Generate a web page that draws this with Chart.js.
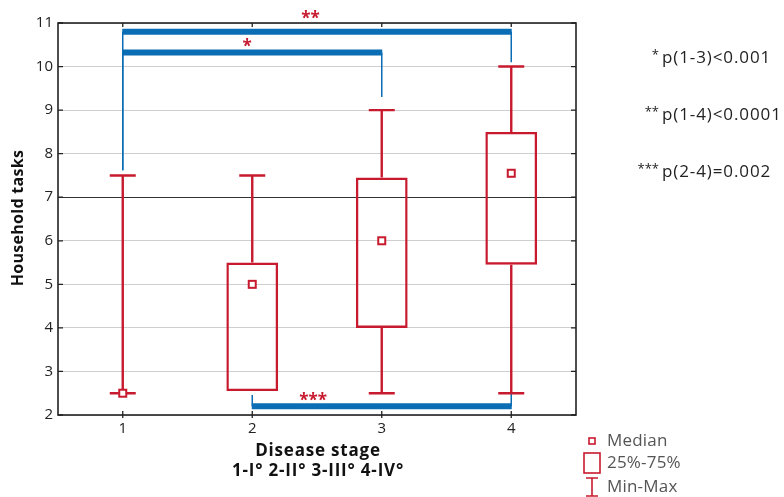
<!DOCTYPE html>
<html>
<head>
<meta charset="utf-8">
<script src="https://cdn.jsdelivr.net/npm/chart.js@4"></script>
<style>
  body { margin: 0; background: #fff; }
  #wrap { width: 784px; height: 497px; }
</style>
</head>
<body>
<div id="wrap"><canvas id="boxChart" width="784" height="497"></canvas></div>
<script>
// Disease stage groups and the box plot values
const stages = ['1', '2', '3', '4'];
const minVals = [2.5, 2.55, 2.5, 2.5];
const q1Vals = [2.5, 2.55, 4.0, 5.45];
const medianVals = [2.5, 5.0, 6.0, 7.55];
const q3Vals = [2.5, 5.5, 7.45, 8.5];
const maxVals = [7.5, 7.5, 9.0, 10.0];

// y axis
const yMin = 2;
const yMax = 11;

// significance brackets (stage numbers, levels in data units)
const sigFrom = [1, 1, 2];
const sigTo = [3, 4, 4];
const sigLevel = [10.32, 10.8, 2.2];
const sigDropFrom = [7.62, 7.62, 2.46];
const sigDropTo = [9.3, 10.1, 2.5];
const sigStars = ['*', '**', '***'];
const starX = [1.96, 2.45, 2.47];
const starY = [10.53, 11.18, 2.42];
const pTexts = ['p(1-3)<0.001', 'p(1-4)<0.0001', 'p(2-4)=0.002'];

const legendLabels = ['Median', '25%-75%', 'Min-Max'];

const red = '#c81a2e';
const blue = '#0b6db3';
const font = '"Open Sans", "Noto Sans", sans-serif';

// helper: stage number (1-based, may be fractional) -> pixel
function stageX(scale, v) {
    return scale.getPixelForValue(v - 1);
}

const extras = {
    id: 'extras',
    afterDatasetsDraw(chart) {
        const {ctx, scales: {x, y}} = chart;
        ctx.save();

        // significance brackets
        for (let i = 0; i < sigFrom.length; i++) {
            const x1 = stageX(x, sigFrom[i]);
            const x2 = stageX(x, sigTo[i]);
            const yl = y.getPixelForValue(sigLevel[i]);
            ctx.strokeStyle = blue;
            ctx.lineWidth = 1.5;
            ctx.beginPath();
            ctx.moveTo(x1, yl);
            ctx.lineTo(x1, y.getPixelForValue(sigDropFrom[i]));
            ctx.moveTo(x2, yl);
            ctx.lineTo(x2, y.getPixelForValue(sigDropTo[i]));
            ctx.stroke();
            ctx.lineWidth = 6;
            ctx.beginPath();
            ctx.moveTo(x1 - 0.5, yl);
            ctx.lineTo(x2 + 0.5, yl);
            ctx.stroke();
        }

        // whiskers, caps and medians
        ctx.strokeStyle = red;
        ctx.lineWidth = 2.4;
        for (let i = 0; i < stages.length; i++) {
            const cx = x.getPixelForValue(i);
            const collapsed = q1Vals[i] === q3Vals[i];
            ctx.beginPath();
            if (maxVals[i] > q3Vals[i]) {
                ctx.moveTo(cx, y.getPixelForValue(q3Vals[i]));
                ctx.lineTo(cx, y.getPixelForValue(maxVals[i]));
                ctx.moveTo(cx - 13, y.getPixelForValue(maxVals[i]));
                ctx.lineTo(cx + 13, y.getPixelForValue(maxVals[i]));
            }
            if (minVals[i] < q1Vals[i] || collapsed) {
                ctx.moveTo(cx, y.getPixelForValue(q1Vals[i]));
                ctx.lineTo(cx, y.getPixelForValue(minVals[i]));
                ctx.moveTo(cx - 13, y.getPixelForValue(minVals[i]));
                ctx.lineTo(cx + 13, y.getPixelForValue(minVals[i]));
            }
            ctx.stroke();

            const my = y.getPixelForValue(medianVals[i]);
            ctx.fillStyle = '#fff';
            ctx.fillRect(cx - 4, my - 4, 8, 8);
            ctx.lineWidth = 2;
            ctx.strokeRect(cx - 3.5, my - 3.5, 7, 7);
            ctx.lineWidth = 2.4;
        }
        ctx.restore();
    },
    afterDraw(chart) {
        const {ctx, chartArea: a, scales: {x, y}} = chart;
        ctx.save();

        // frame and inward ticks
        ctx.strokeStyle = '#222';
        ctx.lineWidth = 1.6;
        ctx.strokeRect(a.left, a.top, a.right - a.left, a.bottom - a.top);
        ctx.lineWidth = 1.3;
        ctx.beginPath();
        for (let v = yMin; v <= yMax; v++) {
            const py = y.getPixelForValue(v);
            ctx.moveTo(a.left, py); ctx.lineTo(a.left + 5, py);
            ctx.moveTo(a.right, py); ctx.lineTo(a.right - 5, py);
        }
        for (let i = 0; i < stages.length; i++) {
            const px = x.getPixelForValue(i);
            ctx.moveTo(px, a.top); ctx.lineTo(px, a.top + 4);
            ctx.moveTo(px, a.bottom + 3); ctx.lineTo(px, a.bottom - 4);
        }
        ctx.stroke();

        // stars
        ctx.fillStyle = red;
        ctx.font = 'bold 17px ' + font;
        ctx.textAlign = 'center';
        ctx.textBaseline = 'middle';
        for (let i = 0; i < sigStars.length; i++) {
            ctx.fillText(sigStars[i], stageX(x, starX[i]), y.getPixelForValue(starY[i]) + 4);
        }

        // axis titles
        ctx.fillStyle = '#111';
        ctx.font = 'bold 17px ' + font;
        ctx.letterSpacing = '0.8px';
        ctx.fillText('Disease stage', 318, 451);
        ctx.fillText('1-I\u00b0 2-II\u00b0 3-III\u00b0 4-IV\u00b0', 318, 471);
        ctx.font = 'bold 16px ' + font;
        ctx.letterSpacing = '0.3px';
        ctx.save();
        ctx.translate(18, 218);
        ctx.rotate(-Math.PI / 2);
        ctx.fillText('Household tasks', 0, 0);
        ctx.restore();

        // p-values
        const pY = [58, 115, 172];
        for (let i = 0; i < pTexts.length; i++) {
            ctx.textAlign = 'right';
            ctx.letterSpacing = '0px';
            ctx.font = '13px ' + font;
            ctx.fillStyle = '#222';
            ctx.fillText(sigStars[i], 659, pY[i] - 3);
            ctx.textAlign = 'left';
            ctx.font = '17px ' + font;
            ctx.letterSpacing = '0.9px';
            ctx.fillText(pTexts[i], 662, pY[i]);
        }

        // legend
        const lY = [441, 463, 487];
        ctx.fillStyle = '#555';
        ctx.font = '17px ' + font;
        ctx.letterSpacing = '0.2px';
        ctx.textAlign = 'left';
        legendLabels.forEach((t, i) => ctx.fillText(t, 607, lY[i]));
        ctx.strokeStyle = red;
        ctx.lineWidth = 1.6;
        ctx.strokeRect(589, lY[0] - 3, 6, 6);
        ctx.strokeRect(584, lY[1] - 10, 16, 20);
        ctx.beginPath();
        ctx.moveTo(592, lY[2] - 9); ctx.lineTo(592, lY[2] + 9);
        ctx.moveTo(586, lY[2] - 9); ctx.lineTo(598, lY[2] - 9);
        ctx.moveTo(586, lY[2] + 9); ctx.lineTo(598, lY[2] + 9);
        ctx.stroke();

        ctx.restore();
    }
};

document.addEventListener('DOMContentLoaded', function() {
    const ctx = document.getElementById('boxChart').getContext('2d');
    new Chart(ctx, {
        type: 'bar',
        data: {
            labels: stages,
            datasets: [{
                label: '25%-75%',
                data: q1Vals.map((q, i) => [q, q3Vals[i]]),
                backgroundColor: 'rgba(255,255,255,0)',
                borderColor: red,
                borderWidth: 2.4,
                borderSkipped: false,
                barPercentage: 0.4,
                categoryPercentage: 1
            }]
        },
        options: {
            responsive: false,
            animation: false,
            layout: {
                padding: {left: 0, top: 23, right: 208, bottom: 0}
            },
            plugins: {
                legend: {display: false},
                tooltip: {enabled: false}
            },
            scales: {
                x: {
                    offset: true,
                    afterFit: (s) => { s.height = 82; },
                    grid: {display: false, drawTicks: false},
                    border: {display: false},
                    ticks: {
                        color: '#222',
                        padding: 5,
                        font: {family: font, size: 15}
                    }
                },
                y: {
                    min: yMin,
                    max: yMax,
                    afterFit: (s) => { s.width = 58; },
                    grid: {
                        drawTicks: false,
                        color: (c) => c.tick && c.tick.value === 7 ? '#333' : '#cfcfcf',
                        lineWidth: 1
                    },
                    border: {display: false},
                    ticks: {
                        stepSize: 1,
                        color: '#222',
                        padding: 5,
                        font: {family: font, size: 15}
                    }
                }
            }
        },
        plugins: [extras]
    });
});
</script>
</body>
</html>
